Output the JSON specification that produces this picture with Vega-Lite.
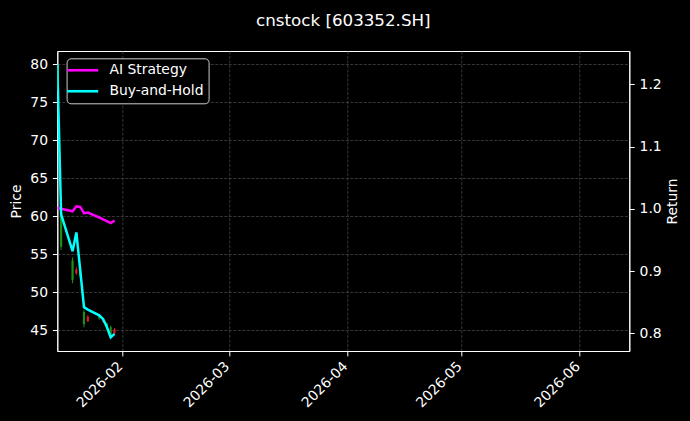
{
  "$schema": "https://vega.github.io/schema/vega-lite/v6.json",
  "width": 572,
  "height": 300,
  "autosize": {"type": "none"},
  "padding": {"left": 57.3, "top": 51, "right": 60.7, "bottom": 70},
  "background": "black",
  "title": {
    "text": "cnstock [603352.SH]",
    "color": "white",
    "font": "DejaVu Sans",
    "fontSize": 16.7,
    "fontWeight": "normal",
    "anchor": "middle",
    "baseline": "alphabetic",
    "offset": 8.3
  },
  "datasets": {
    "candles": [
      {"date": "2026-01-15", "open": 79.5, "high": 79.95, "low": 76.5, "close": 77.0},
      {"date": "2026-01-16", "open": 60.5, "high": 60.8, "low": 55.6, "close": 56.0},
      {"date": "2026-01-19", "open": 54.2, "high": 54.6, "low": 51.2, "close": 51.6},
      {"date": "2026-01-20", "open": 52.5, "high": 53.3, "low": 52.3, "close": 53.0},
      {"date": "2026-01-21", "open": 52.8, "high": 53.0, "low": 52.0, "close": 52.2},
      {"date": "2026-01-22", "open": 47.4, "high": 47.7, "low": 45.4, "close": 45.8},
      {"date": "2026-01-23", "open": 46.2, "high": 47.0, "low": 46.1, "close": 46.8},
      {"date": "2026-01-26", "open": 46.9, "high": 47.1, "low": 46.4, "close": 46.6},
      {"date": "2026-01-27", "open": 46.2, "high": 46.6, "low": 46.0, "close": 46.5},
      {"date": "2026-01-28", "open": 45.9, "high": 46.0, "low": 45.1, "close": 45.3},
      {"date": "2026-01-29", "open": 45.4, "high": 45.6, "low": 44.07, "close": 44.4},
      {"date": "2026-01-30", "open": 44.6, "high": 45.3, "low": 44.5, "close": 45.1}
    ],
    "returns": [
      {"date": "2026-01-15", "series": "AI Strategy", "value": 1.0016},
      {"date": "2026-01-16", "series": "AI Strategy", "value": 1.0},
      {"date": "2026-01-19", "series": "AI Strategy", "value": 0.996},
      {"date": "2026-01-20", "series": "AI Strategy", "value": 1.004},
      {"date": "2026-01-21", "series": "AI Strategy", "value": 1.003},
      {"date": "2026-01-22", "series": "AI Strategy", "value": 0.993},
      {"date": "2026-01-23", "series": "AI Strategy", "value": 0.994},
      {"date": "2026-01-26", "series": "AI Strategy", "value": 0.986},
      {"date": "2026-01-27", "series": "AI Strategy", "value": 0.983},
      {"date": "2026-01-28", "series": "AI Strategy", "value": 0.98},
      {"date": "2026-01-29", "series": "AI Strategy", "value": 0.977},
      {"date": "2026-01-30", "series": "AI Strategy", "value": 0.981},
      {"date": "2026-01-15", "series": "Buy-and-Hold", "value": 1.2315},
      {"date": "2026-01-16", "series": "Buy-and-Hold", "value": 0.991},
      {"date": "2026-01-19", "series": "Buy-and-Hold", "value": 0.932},
      {"date": "2026-01-20", "series": "Buy-and-Hold", "value": 0.962},
      {"date": "2026-01-21", "series": "Buy-and-Hold", "value": 0.902},
      {"date": "2026-01-22", "series": "Buy-and-Hold", "value": 0.842},
      {"date": "2026-01-23", "series": "Buy-and-Hold", "value": 0.838},
      {"date": "2026-01-26", "series": "Buy-and-Hold", "value": 0.829},
      {"date": "2026-01-27", "series": "Buy-and-Hold", "value": 0.823},
      {"date": "2026-01-28", "series": "Buy-and-Hold", "value": 0.81},
      {"date": "2026-01-29", "series": "Buy-and-Hold", "value": 0.7935},
      {"date": "2026-01-30", "series": "Buy-and-Hold", "value": 0.799}
    ]
  },
  "encoding": {
    "x": {
      "field": "date",
      "type": "temporal",
      "title": null,
      "scale": {
        "type": "utc",
        "domain": [
          {"year": 2026, "month": 1, "date": 15, "utc": true},
          {"year": 2026, "month": 6, "date": 14, "utc": true}
        ]
      },
      "axis": {
        "values": [
          {"year": 2026, "month": 2, "date": 1, "utc": true},
          {"year": 2026, "month": 3, "date": 1, "utc": true},
          {"year": 2026, "month": 4, "date": 1, "utc": true},
          {"year": 2026, "month": 5, "date": 1, "utc": true},
          {"year": 2026, "month": 6, "date": 1, "utc": true}
        ],
        "format": "%Y-%m",
        "labelAngle": -45,
        "labelAlign": "right",
        "labelBaseline": "top",
        "labelOffset": -7,
        "labelPadding": 3
      }
    }
  },
  "layer": [
    {
      "data": {"name": "candles"},
      "encoding": {
        "y": {
          "field": "low",
          "type": "quantitative",
          "title": "Price",
          "scale": {"domain": [42.28, 81.75], "nice": false, "zero": false},
          "axis": {"orient": "left", "values": [45, 50, 55, 60, 65, 70, 75, 80], "titlePadding": 6}
        },
        "color": {
          "condition": {"test": "datum.close >= datum.open", "value": "#e41a1c"},
          "value": "#1a8f1a"
        }
      },
      "layer": [
        {
          "mark": {"type": "rule", "strokeWidth": 1, "clip": true},
          "encoding": {"y2": {"field": "high"}}
        },
        {
          "mark": {"type": "rule", "strokeWidth": 2.2, "clip": true},
          "encoding": {"y": {"field": "open", "type": "quantitative"}, "y2": {"field": "close"}}
        }
      ]
    },
    {
      "data": {"name": "returns"},
      "mark": {"type": "line", "strokeWidth": 2.5, "clip": true},
      "encoding": {
        "y": {
          "field": "value",
          "type": "quantitative",
          "title": "Return",
          "scale": {"domain": [0.7716, 1.2534], "nice": false, "zero": false},
          "axis": {
            "orient": "right",
            "values": [0.8, 0.9, 1.0, 1.1, 1.2],
            "format": ".1f",
            "titleAngle": 270,
            "titleBaseline": "top",
            "titlePadding": 4
          }
        },
        "color": {
          "field": "series",
          "type": "nominal",
          "scale": {"domain": ["AI Strategy", "Buy-and-Hold"], "range": ["#ff00ff", "#00ffff"]},
          "legend": {
            "orient": "none",
            "legendX": 9.3,
            "legendY": 7.3,
            "title": null,
            "symbolType": "M-2.2,0H3.8",
            "symbolSize": 107,
            "symbolStrokeWidth": 2.6,
            "labelColor": "white",
            "labelFont": "DejaVu Sans",
            "labelFontSize": 13.9,
            "labelOffset": 23.9,
            "strokeColor": "#cccccc",
            "fillColor": "black",
            "cornerRadius": 4,
            "padding": 5,
            "rowPadding": 6
          }
        }
      }
    }
  ],
  "resolve": {"scale": {"y": "independent", "color": "independent"}},
  "config": {
    "view": {"stroke": "white", "strokeWidth": 1},
    "axis": {
      "domainColor": "white",
      "tickColor": "white",
      "labelColor": "white",
      "titleColor": "white",
      "labelFont": "DejaVu Sans",
      "titleFont": "DejaVu Sans",
      "labelFontSize": 13.9,
      "titleFontSize": 13.9,
      "titleFontWeight": "normal",
      "tickSize": 4.9,
      "labelPadding": 4.9,
      "grid": true,
      "gridColor": "#4d4d4d",
      "gridDash": [3, 1.5],
      "gridWidth": 0.7
    }
  }
}
